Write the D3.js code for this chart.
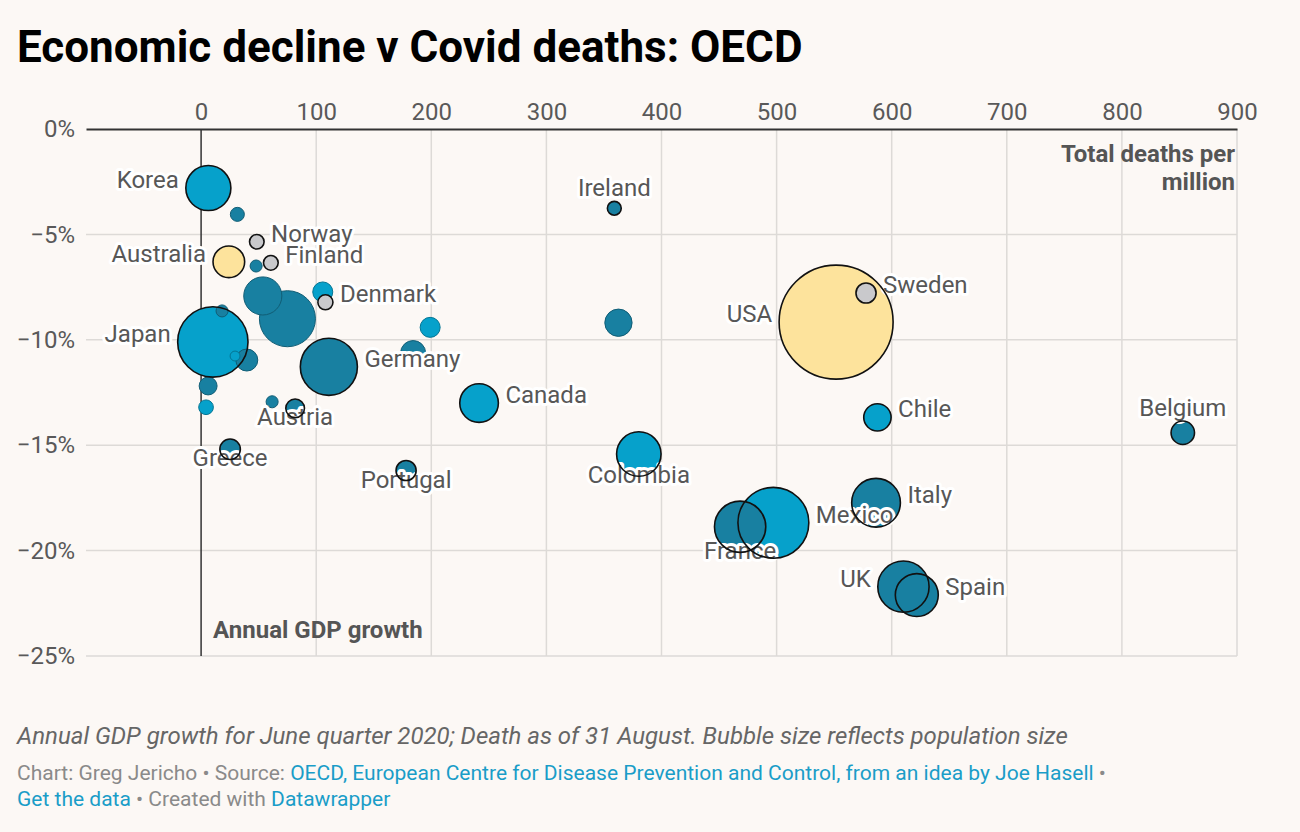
<!DOCTYPE html>
<html><head><meta charset="utf-8">
<script src="https://cdn.jsdelivr.net/npm/d3@7"></script>
<style>
body{margin:0;background:#fcf8f5;}
svg text{font-family:Roboto, "Noto Sans", sans-serif;}
</style></head><body>
<svg id="chart" width="1300" height="832"></svg>
<script>
// ---- data ----
const countries = ["Korea","Lithuania","Norway","Australia","Estonia","Finland","Poland","Turkey","Israel","Denmark","Latvia","Japan","Iceland","Czechia","Germany","Slovakia","New Zealand","Slovenia","Austria","Greece","Luxembourg","Switzerland","Portugal","Ireland","Netherlands","Canada","Colombia","USA","Sweden","Chile","Belgium","Italy","Mexico","France","UK","Spain"];
const deathsPerMillion = [6.3,31.5,48.4,24.1,47.8,60.6,53.6,75.0,105.7,108,18.2,10.2,29.5,39.7,111,6.1,4.3,61.7,81.7,25.2,199,184.2,178.1,359,362.6,241.5,380.3,551.7,577.7,587.6,852.9,586.4,497.2,468.3,610.2,621.8];
const gdpGrowth = [-2.8,-4.05,-5.35,-6.3,-6.5,-6.35,-7.92,-9.0,-7.73,-8.22,-8.63,-10.1,-10.77,-10.96,-11.28,-12.19,-13.2,-12.94,-13.25,-15.19,-9.41,-10.63,-16.2,-3.76,-9.19,-13.0,-15.42,-9.16,-7.78,-13.68,-14.41,-17.73,-18.68,-18.87,-21.71,-22.11];
const population = [51.7,5.0,5.4,25.5,3.7,5.5,37,80,10.2,5.8,3.7,126,2.5,12.3,83,8.2,5.5,3.7,8.9,10.7,10.2,16,10.3,4.9,19,38,50.4,331,10.3,19.1,14,60.4,128,67,67,47];
const group = ["other","europe","nordic","highlight","europe","nordic","europe","europe","other","nordic","europe","other","other","europe","europe","europe","other","europe","europe","europe","other","europe","europe","europe","europe","other","other","highlight","nordic","other","europe","europe","other","europe","europe","europe"];
const labelPos = ["left",null,"right","left",null,"right",null,null,null,"right",null,"left",null,null,"right",null,null,null,"bottom","bottom",null,null,"bottom","top",null,"right","bottom","left","right","right","top","right","right","bottom","left","right"];
const xTicks = [0,100,200,300,400,500,600,700,800,900];
const yTicks = [0,-5,-10,-15,-20,-25];
const groupColors = {europe:"#1880a1", other:"#06a1cb", nordic:"#c9c9cc", highlight:"#fde39c"};

const svg = d3.select("#chart");
svg.append("rect").attr("width",1300).attr("height",832).attr("fill","#fcf8f5");

const x = d3.scaleLinear().domain([-100, 900]).range([86, 1237]);
const y = d3.scaleLinear().domain([0, -25]).range([129, 656]);
const r = d3.scaleSqrt().domain([0, 331]).range([0, 57]);

// title
svg.append("text").attr("x",17).attr("y",62).text("Economic decline v Covid deaths: OECD")
  .attr("font-size",44).attr("font-weight",700).attr("fill","#000");

// gridlines
const grid = svg.append("g");
grid.selectAll("line.h").data(yTicks.filter(d=>d!==0)).join("line")
  .attr("x1",x(-100)).attr("x2",x(900)).attr("y1",d=>y(d)).attr("y2",d=>y(d))
  .attr("stroke","#dddad7").attr("stroke-width",1.5);
grid.selectAll("line.v").data(xTicks.filter(d=>d!==0)).join("line")
  .attr("x1",d=>x(d)).attr("x2",d=>x(d)).attr("y1",y(0)).attr("y2",y(-25))
  .attr("stroke","#dddad7").attr("stroke-width",1.5);
grid.append("line").attr("x1",x(0)).attr("x2",x(0)).attr("y1",y(0)).attr("y2",y(-25))
  .attr("stroke","#333").attr("stroke-width",1.5);

// axes
const xAxis = svg.append("g").attr("transform",`translate(0,${y(0)})`)
  .call(d3.axisTop(x).tickValues(xTicks).tickSize(0).tickPadding(9));
xAxis.select(".domain").attr("stroke","#333").attr("stroke-width",2);
xAxis.selectAll("text").attr("font-size",24).attr("fill","#595959").attr("font-family","Roboto");

const yAxis = svg.append("g").attr("transform",`translate(${x(-100)},0)`)
  .call(d3.axisLeft(y).tickValues(yTicks).tickSize(0).tickPadding(11).tickFormat(d=>d3.format("d")(d)+"%"));
yAxis.select(".domain").remove();
yAxis.selectAll("text").attr("font-size",24).attr("fill","#595959").attr("font-family","Roboto");

// axis titles
const at = svg.append("g").attr("font-size",24).attr("font-weight",700).attr("fill","#555");
at.append("text").attr("x",x(900)-2).attr("y",162).attr("text-anchor","end").text("Total deaths per");
at.append("text").attr("x",x(900)-2).attr("y",190).attr("text-anchor","end").text("million");
at.append("text").attr("x",x(0)+12).attr("y",638).text("Annual GDP growth");

// bubbles
const data = countries.map((c,i)=>({name:c, dx:deathsPerMillion[i], gy:gdpGrowth[i], pop:population[i], grp:group[i], pos:labelPos[i]}))
  .sort((a,b)=>b.pop-a.pop);

const fills = svg.append("g");
fills.selectAll("circle").data(data).join("circle")
  .attr("cx",d=>x(d.dx)).attr("cy",d=>y(d.gy)).attr("r",d=>r(d.pop))
  .attr("fill",d=>groupColors[d.grp])
  .attr("stroke",d=>d.pos?"none":d3.color(groupColors[d.grp]).darker(0.9))
  .attr("stroke-width",1);

const labelled = data.filter(d=>d.pos);
function lx(d){ const cx=x(d.dx), rr=r(d.pop);
  return d.pos==="left"?cx-rr-7:d.pos==="right"?cx+rr+7:cx; }
function ly(d){ const cy=y(d.gy), rr=r(d.pop);
  return d.pos==="top"?cy-rr-5:d.pos==="bottom"?cy+rr+7:cy; }
function la(d){ return d.pos==="left"?"end":d.pos==="right"?"start":"middle"; }

const labels = svg.append("g");
labels.selectAll("text").data(labelled).join("text")
  .attr("x",lx).attr("y",ly).attr("text-anchor",la).text(d=>d.name)
  .attr("font-size",24).attr("fill","#575757")
  .attr("stroke","#fff").attr("stroke-width",6).attr("stroke-linejoin","round")
  .style("paint-order","stroke");

const outlines = svg.append("g");
outlines.selectAll("circle").data(labelled).join("circle")
  .attr("cx",d=>x(d.dx)).attr("cy",d=>y(d.gy)).attr("r",d=>r(d.pop))
  .attr("fill","none").attr("stroke","#111").attr("stroke-width",1.6);

// footer
svg.append("text").attr("x",17).attr("y",744).attr("font-size",24).attr("font-style","italic").attr("fill","#666")
  .text("Annual GDP growth for June quarter 2020; Death as of 31 August. Bubble size reflects population size");
const f1 = svg.append("text").attr("x",17).attr("y",780).attr("font-size",21).attr("fill","#8a8a8a");
f1.append("tspan").text("Chart: Greg Jericho • Source: ");
f1.append("tspan").attr("fill","#1a9dc8").text("OECD, European Centre for Disease Prevention and Control, from an idea by Joe Hasell");
f1.append("tspan").text(" •");
const f2 = svg.append("text").attr("x",17).attr("y",806).attr("font-size",21).attr("fill","#8a8a8a");
f2.append("tspan").attr("fill","#1a9dc8").text("Get the data");
f2.append("tspan").text(" • Created with ");
f2.append("tspan").attr("fill","#1a9dc8").text("Datawrapper");
</script>
</body></html>
